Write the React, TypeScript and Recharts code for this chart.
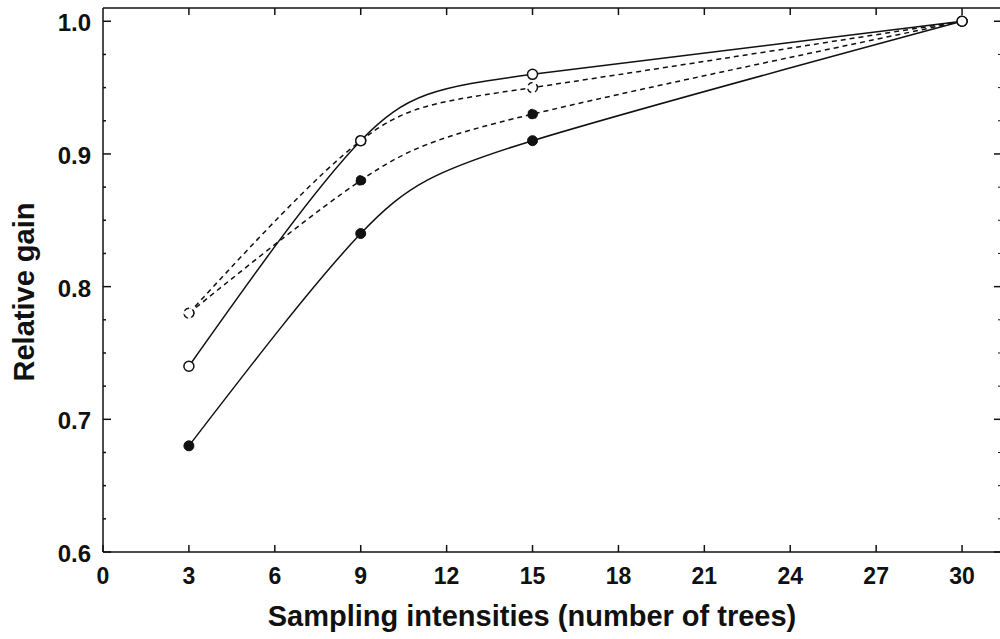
import { LineChart, Line, XAxis, YAxis, Label } from "recharts";

const samplingTrees = [3, 9, 15, 30];
const openSolid = [0.74, 0.91, 0.96, 1.0];
const openDashed = [0.78, 0.91, 0.95, 1.0];
const filledDashed = [0.78, 0.88, 0.93, 1.0];
const filledSolid = [0.68, 0.84, 0.91, 1.0];

const xTicks = [0, 3, 6, 9, 12, 15, 18, 21, 24, 27, 30];
const xTopTicks = [3, 6, 9, 12, 15, 18, 21, 24, 27, 30];
const yTicks = [0.6, 0.625, 0.65, 0.675, 0.7, 0.725, 0.75, 0.775, 0.8, 0.825, 0.85, 0.875, 0.9, 0.925, 0.95, 0.975, 1.0];

const data = samplingTrees.map((n, i) => ({
  n,
  openSolid: openSolid[i],
  openDashed: openDashed[i],
  filledDashed: filledDashed[i],
  filledSolid: filledSolid[i],
}));

const INK = "#111";
const FONT = "'Liberation Sans', Arial, sans-serif";
const X_DOMAIN: [number, number] = [0, 31.36];
const Y_DOMAIN: [number, number] = [0.6, 1.01];

// chart layout
const CHART_W = 1003;
const CHART_H = 639;
const MARGIN = { top: 8, right: 1, left: 0, bottom: 0 };
const Y_AXIS_W = 103;
const R_AXIS_W = 1;
const X_AXIS_H = 87;
const PLOT_W = CHART_W - MARGIN.left - MARGIN.right - Y_AXIS_W - R_AXIS_W;
const PLOT_H = CHART_H - MARGIN.top - MARGIN.bottom - X_AXIS_H;

const isMajor = (v: number) => Math.abs(v * 10 - Math.round(v * 10)) < 1e-6;

// bottom ticks also draw the matching inward tick on the top frame,
// and the 0 tick draws the top frame line itself
const BottomTick = (props: any) => {
  const { x, y, payload } = props;
  const top = y - PLOT_H;
  return (
    <g>
      <path d={`M${x},${y}v-7`} stroke={INK} strokeWidth={1.5} fill="none" />
      {xTopTicks.includes(payload.value) && (
        <path d={`M${x},${top}v7`} stroke={INK} strokeWidth={1.5} fill="none" />
      )}
      {payload.value === X_DOMAIN[0] && (
        <path d={`M${x},${top}h${PLOT_W}`} stroke={INK} strokeWidth={1.5} fill="none" />
      )}
      <text x={x} y={y + 32} textAnchor="middle" fontFamily={FONT} fontWeight="bold" fontSize={23} fill={INK}>
        {payload.value}
      </text>
    </g>
  );
};

const LeftTick = (props: any) => {
  const { x, y, payload } = props;
  const major = isMajor(payload.value);
  return (
    <g>
      <path d={`M${x},${y}h${major ? 8 : 3}`} stroke={INK} strokeWidth={1.5} fill="none" />
      {major && (
        <text x={x - 12} y={y + 1.5} dominantBaseline="central" textAnchor="end" fontFamily={FONT} fontWeight="bold" fontSize={24} fill={INK}>
          {payload.value.toFixed(1)}
        </text>
      )}
    </g>
  );
};

const RightTick = (props: any) => {
  const { x, y, payload } = props;
  const major = isMajor(payload.value);
  return <path d={`M${x},${y}h${major ? -7 : -3}`} stroke={INK} strokeWidth={major ? 1.5 : 1} fill="none" />;
};

const openDot = { r: 5, fill: "#fff", stroke: INK, strokeWidth: 1.5 };
const filledDot = { r: 5, fill: INK, stroke: INK, strokeWidth: 1 };

export default function App() {
  return (
    <div style={{ position: "absolute", left: 0, top: 0, width: 1000, height: 639, overflow: "hidden", background: "#fff" }}>
      <LineChart width={CHART_W} height={CHART_H} data={data} margin={MARGIN}>
        <XAxis
          dataKey="n"
          type="number"
          domain={X_DOMAIN}
          ticks={xTicks}
          interval={0}
          height={X_AXIS_H}
          tickSize={0}
          tickMargin={0}
          tickLine={false}
          axisLine={{ stroke: INK, strokeWidth: 1.5 }}
          tick={BottomTick}
          allowDataOverflow
        >
          <Label
            content={({ viewBox }: any) => (
              <text
                x={532}
                y={viewBox.y + 74}
                textAnchor="middle"
                fontFamily={FONT}
                fontWeight="bold"
                fontSize={29}
                fill={INK}
              >
                Sampling intensities (number of trees)
              </text>
            )}
          />
        </XAxis>
        <YAxis
          type="number"
          domain={Y_DOMAIN}
          ticks={yTicks}
          interval={0}
          width={Y_AXIS_W}
          tickSize={0}
          tickMargin={0}
          tickLine={false}
          axisLine={{ stroke: INK, strokeWidth: 1.5 }}
          tick={LeftTick}
          allowDataOverflow
        >
          <Label
            content={() => {
              const cy = 292;
              return (
                <text
                  x={24}
                  y={cy}
                  transform={`rotate(-90, 24, ${cy})`}
                  textAnchor="middle"
                  dominantBaseline="central"
                  fontFamily={FONT}
                  fontWeight="bold"
                  fontSize={29}
                  fill={INK}
                >
                  Relative gain
                </text>
              );
            }}
          />
        </YAxis>
        <YAxis
          yAxisId="right"
          orientation="right"
          type="number"
          domain={Y_DOMAIN}
          ticks={yTicks}
          interval={0}
          width={R_AXIS_W}
          tickSize={0}
          tickMargin={0}
          tickLine={false}
          axisLine={{ stroke: INK, strokeWidth: 1.5 }}
          tick={RightTick}
          allowDataOverflow
        />
        <Line type="natural" dataKey="filledSolid" stroke={INK} strokeWidth={1.5} dot={filledDot} activeDot={false} isAnimationActive={false} />
        <Line type="natural" dataKey="filledDashed" stroke={INK} strokeWidth={1.5} strokeDasharray="5 4" dot={filledDot} activeDot={false} isAnimationActive={false} />
        <Line type="natural" dataKey="openDashed" stroke={INK} strokeWidth={1.5} strokeDasharray="5 4" dot={openDot} activeDot={false} isAnimationActive={false} />
        <Line type="natural" dataKey="openSolid" stroke={INK} strokeWidth={1.5} dot={openDot} activeDot={false} isAnimationActive={false} />
      </LineChart>
    </div>
  );
}
